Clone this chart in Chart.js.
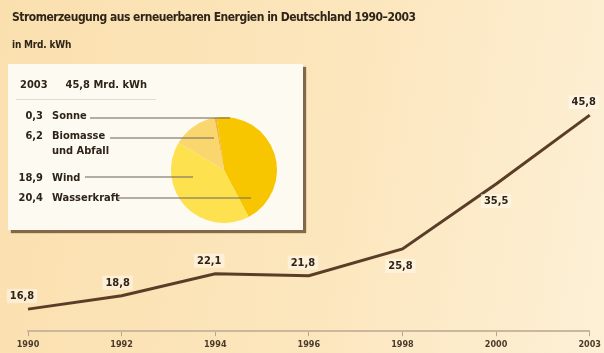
<!DOCTYPE html>
<html lang="de">
<head>
<meta charset="utf-8">
<script src="https://cdn.jsdelivr.net/npm/chart.js@4.4.1/dist/chart.umd.min.js"></script>
<style>
  html, body { margin: 0; padding: 0; }
  body {
    width: 604px; height: 353px; overflow: hidden; position: relative;
    background: linear-gradient(100deg, #fbe0af 0%, #fce6bd 55%, #fdf0d6 100%);
    font-family: "DejaVu Sans Condensed", "Liberation Sans", sans-serif;
    color: #2e2418;
  }
  #lineChart { position: absolute; left: 0; top: 0; }
  .title { position: absolute; left: 12px; top: 10px; font-size: 12px; letter-spacing: -0.5px; font-weight: bold; white-space: nowrap; }
  .unit { position: absolute; left: 12px; top: 39px; font-size: 10px; letter-spacing: -0.2px; font-weight: bold; }
  .inset {
    position: absolute; left: 8px; top: 64px; width: 295px; height: 166px;
    background: #fdfaf2;
    box-shadow: 3px 3px 1px rgba(92, 62, 36, 0.75);
  }
  .inset .head { position: absolute; left: 12px; top: 14px; font-size: 11px; font-weight: bold; white-space: nowrap; }
  .inset .rule { position: absolute; left: 8px; top: 35px; width: 140px; border-top: 1px solid #e2ddd2; }
  .item { position: absolute; left: 0; font-size: 11px; font-weight: bold; line-height: 15px; }
  .item .val { position: absolute; left: 0; width: 35px; text-align: right; }
  .item .lab { position: absolute; left: 44px; white-space: nowrap; }
  .leader { position: absolute; height: 0; border-top: 2px solid rgba(120, 110, 100, 0.55); z-index: 3; }
  #pieChart { position: absolute; left: 161px; top: 51px; z-index: 2; }
</style>
</head>
<body>
<canvas id="lineChart" width="604" height="353"></canvas>
<div class="title">Stromerzeugung aus erneuerbaren Energien in Deutschland 1990–2003</div>
<div class="unit">in Mrd. kWh</div>
<div class="inset" id="inset">
  <div class="head" id="insetHead"></div>
  <div class="rule"></div>
  <canvas id="pieChart" width="110" height="110"></canvas>
</div>
<script>
// Zeitreihe
const years = ['1990', '1992', '1994', '1996', '1998', '2000', '2003'];
const output = [16.8, 18.8, 22.1, 21.8, 25.8, 35.5, 45.8];

// Anteile 2003 (Mrd. kWh)
const shareYear = '2003';
const shareTotal = 45.8;
const sources = ['Sonne', 'Biomasse\nund Abfall', 'Wind', 'Wasserkraft'];
const sourceValues = [0.3, 6.2, 18.9, 20.4];
const sourceColors = ['#efb43a', '#fad66e', '#fde14e', '#f8c600'];

const fmt = v => v.toFixed(1).replace('.', ',');

// Beschriftung an den Punkten (oben/unten)
const valueLabels = {
  id: 'valueLabels',
  afterDatasetsDraw(chart) {
    const { ctx } = chart;
    const meta = chart.getDatasetMeta(0);
    const below = [false, false, false, false, true, true, false];
    const dx = [-6, -4, -6, -6, -2, 0, -6];
    ctx.save();
    ctx.font = 'bold 11px "DejaVu Sans Condensed", sans-serif';
    ctx.textAlign = 'center';
    ctx.textBaseline = 'middle';
    meta.data.forEach((pt, i) => {
      const txt = fmt(output[i]);
      const x = pt.x + dx[i];
      const y = below[i] ? pt.y + 17 : pt.y - 13;
      const w = ctx.measureText(txt).width + 6;
      ctx.fillStyle = 'rgba(255, 250, 238, 0.55)';
      ctx.fillRect(x - w / 2, y - 7, w, 14);
      ctx.fillStyle = '#2e2418';
      ctx.fillText(txt, x, y);
    });
    ctx.restore();
  }
};

new Chart(document.getElementById('lineChart'), {
  type: 'line',
  data: {
    labels: years,
    datasets: [{
      data: output,
      borderColor: '#5a3d27',
      borderWidth: 3,
      pointRadius: 0,
      tension: 0,
      fill: false,
      clip: false
    }]
  },
  options: {
    responsive: false,
    animation: false,
    layout: { padding: { top: 100, left: 28, right: 14, bottom: 0 } },
    plugins: { legend: { display: false }, tooltip: { enabled: false } },
    scales: {
      x: {
        offset: false,
        grid: { display: true, drawOnChartArea: false, drawTicks: true, tickLength: 5, color: '#b9a68d' },
        border: { display: true, color: '#c9b79e', width: 2 },
        ticks: {
          color: '#4a3b2b',
          font: { size: 9, weight: 'bold', family: '"DejaVu Sans Condensed", sans-serif' },
          padding: 3,
          maxRotation: 0,
          autoSkip: false
        }
      },
      y: { display: false, min: 13.5, max: 48.06 }
    }
  },
  plugins: [valueLabels]
});

// Legende im Kasten
const inset = document.getElementById('inset');
document.getElementById('insetHead').innerHTML =
  `${shareYear}<span style="display:inline-block;width:18px"></span>${fmt(shareTotal)} Mrd. kWh`;

const itemTops = [44, 64, 106, 126];
const leaders = [
  { left: 82, top: 53, width: 140 },
  { left: 102, top: 73, width: 104 },
  { left: 77, top: 112, width: 108 },
  { left: 110, top: 133, width: 133 }
];
sources.forEach((name, i) => {
  const div = document.createElement('div');
  div.className = 'item';
  div.style.top = itemTops[i] + 'px';
  div.innerHTML = `<span class="val">${fmt(sourceValues[i])}</span>` +
    `<span class="lab">${name.replace('\n', '<br>')}</span>`;
  inset.appendChild(div);
  const ln = document.createElement('div');
  ln.className = 'leader';
  ln.style.left = leaders[i].left + 'px';
  ln.style.top = leaders[i].top + 'px';
  ln.style.width = leaders[i].width + 'px';
  inset.appendChild(ln);
});

// Kreisdiagramm: gegen den Uhrzeigersinn in Legendenreihenfolge
new Chart(document.getElementById('pieChart'), {
  type: 'pie',
  data: {
    labels: sources.slice().reverse(),
    datasets: [{
      data: sourceValues.slice().reverse(),
      backgroundColor: sourceColors.slice().reverse(),
      borderWidth: 0
    }]
  },
  options: {
    responsive: false,
    animation: false,
    rotation: -8,
    layout: { padding: 2 },
    plugins: { legend: { display: false }, tooltip: { enabled: false } }
  }
});
</script>
</body>
</html>
